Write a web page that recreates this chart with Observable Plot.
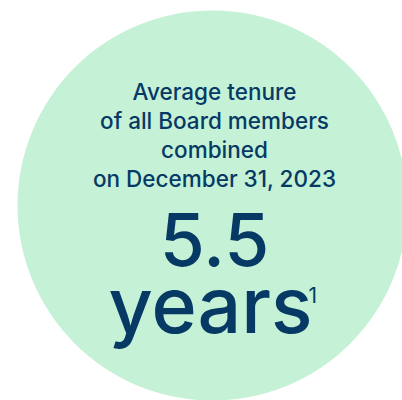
<!DOCTYPE html>
<html>
<head>
<meta charset="utf-8">
<script src="https://cdn.jsdelivr.net/npm/d3@7"></script>
<script src="https://cdn.jsdelivr.net/npm/@observablehq/plot@0.6"></script>
<style>
  html, body { margin: 0; padding: 0; background: #ffffff; }
  #chart { width: 402px; height: 400px; overflow: hidden; }
  svg { display: block; }
</style>
</head>
<body>
<div id="chart"></div>
<script>
// Data
const headlineLines = ["Average tenure", "of all Board members", "combined", "on December 31, 2023"];
const statValue = [5.5];
const statUnit = ["years"];
const footnoteMarks = ["1"];

// Styles
const fillGreen = "#c5f1d6";
const ink = "#063a65";
const font = "Inter, 'Noto Sans', sans-serif";

// Layout (pixel-space scales)
const W = 402, H = 400;
const circle = [{cx: 212, cy: 205}];
const lineRows = headlineLines.map((t, i) => ({text: t, x: 214, y: 99 + i * 29.2}));
const valueRow = statValue.map(v => ({text: d3.format(".1f")(v), x: 214, y: 265}));
const unitRow = statUnit.map(u => ({text: u, x: 208, y: 332}));
const noteRow = footnoteMarks.map(n => ({text: n, x: 308, y: 302}));

const chart = Plot.plot({
  width: W,
  height: H,
  margin: 0,
  x: {domain: [0, W], axis: null},
  y: {domain: [H, 0], axis: null},
  style: {background: "transparent", fontFamily: font},
  marks: [
    Plot.dot(circle, {x: "cx", y: "cy", r: 195, fill: fillGreen, stroke: "none"}),
    Plot.text(lineRows, {x: "x", y: "y", text: "text", fill: ink, fontSize: 22.5, fontWeight: 500, lineAnchor: "bottom", textAnchor: "middle", fontFamily: font}),
    Plot.text(valueRow, {x: "x", y: "y", text: "text", fill: ink, fontSize: 73, fontWeight: 500, lineAnchor: "bottom", textAnchor: "middle", fontFamily: font}),
    Plot.text(unitRow, {x: "x", y: "y", text: "text", fill: ink, fontSize: 77, fontWeight: 500, lineAnchor: "bottom", textAnchor: "middle", fontFamily: font, dx: 2}),
    Plot.text(noteRow, {x: "x", y: "y", text: "text", fill: ink, fontSize: 21, fontWeight: 400, lineAnchor: "bottom", textAnchor: "start", fontFamily: font})
  ]
});
document.getElementById("chart").appendChild(chart);
</script>
</body>
</html>
